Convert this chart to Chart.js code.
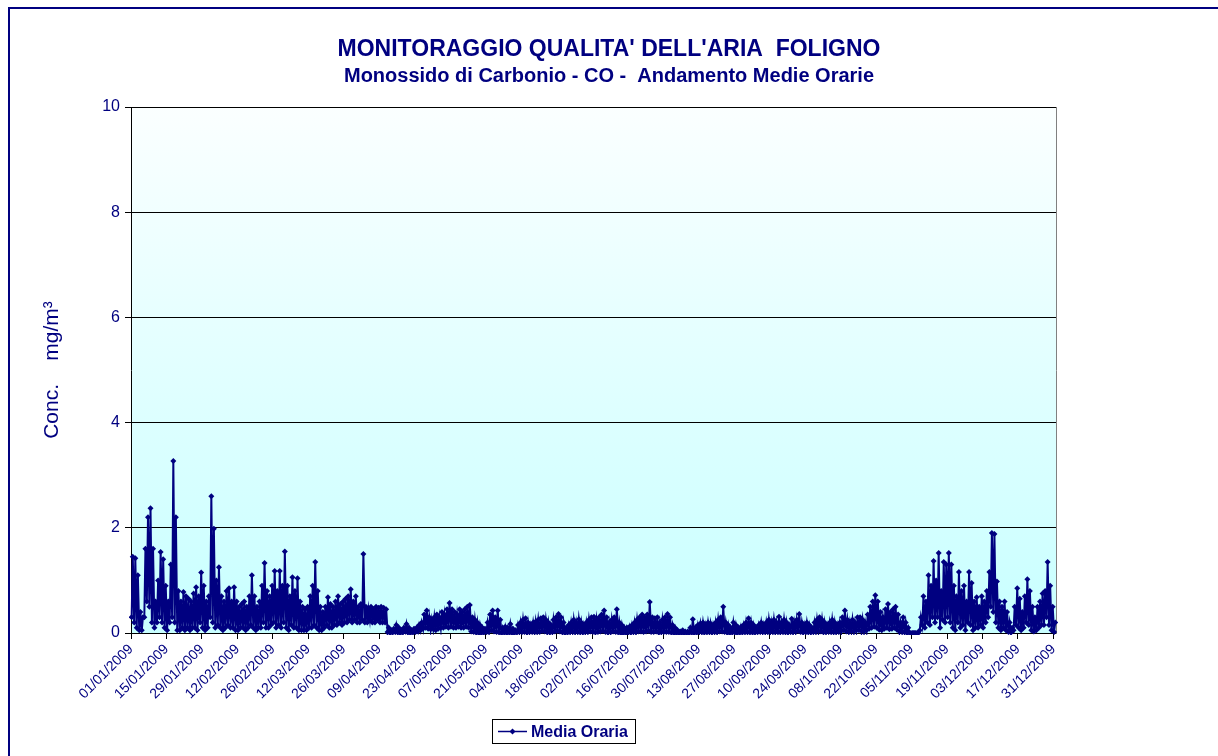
<!DOCTYPE html>
<html>
<head>
<meta charset="utf-8">
<script src="https://cdn.jsdelivr.net/npm/chart.js@4/dist/chart.umd.min.js"></script>
<style>
  html, body { margin:0; padding:0; background:#fff; }
  #wrap { width:1218px; height:756px; position:relative; }
</style>
</head>
<body>
<div id="wrap"><canvas id="c"></canvas></div>
<script>
// ---- DATA (CO hourly concentration, mg/m3, Foligno 2009) ----
// x-axis tick labels
const tickLabels = ['01/01/2009','15/01/2009','29/01/2009','12/02/2009','26/02/2009','12/03/2009','26/03/2009',
  '09/04/2009','23/04/2009','07/05/2009','21/05/2009','04/06/2009','18/06/2009','02/07/2009','16/07/2009',
  '30/07/2009','13/08/2009','27/08/2009','10/09/2009','24/09/2009','08/10/2009','22/10/2009','05/11/2009',
  '19/11/2009','03/12/2009','17/12/2009','31/12/2009'];
const yTicks = [0, 2, 4, 6, 8, 10];
const seriesName = 'Media Oraria';

// daily peak hourly values, one per day
const dailyPeak = [
  // Jan
  1.45,1.42,1.1,0.4,0.3,1.6,2.2,2.37,1.6,0.6,1.0,1.54,1.4,0.9,0.6,1.3,3.27,2.2,0.8,0.6,0.78,0.7,0.65,0.6,0.75,0.87,0.7,1.15,0.9,0.6,0.7,
  // Feb
  2.6,1.98,1.0,1.25,0.7,0.6,0.8,0.85,0.6,0.87,0.6,0.5,0.55,0.6,0.5,0.7,1.1,0.7,0.5,0.6,0.9,1.33,0.8,0.7,0.9,1.18,0.8,1.18,
  // Mar
  0.9,1.55,0.9,0.7,1.06,0.8,1.04,0.6,0.5,0.45,0.5,0.7,0.9,1.35,0.8,0.5,0.4,0.5,0.68,0.55,0.5,0.6,0.7,0.55,0.6,0.65,0.7,0.83,0.6,0.7,0.5,
  // Apr
  0.55,1.5,0.5,0.45,0.5,0.45,0.5,0.48,0.5,0.48,0.45,0.1,0.05,0.08,0.15,0.1,0.05,0.1,0.17,0.1,0.05,0.08,0.1,0.15,0.2,0.35,0.43,0.3,0.25,0.3,
  // May
  0.35,0.3,0.4,0.35,0.45,0.57,0.45,0.4,0.35,0.45,0.4,0.45,0.5,0.53,0.3,0.25,0.2,0.15,0.1,0.08,0.2,0.35,0.43,0.3,0.43,0.25,0.1,0.12,0.1,0.17,0.08,
  // Jun
  0.05,0.15,0.2,0.25,0.28,0.2,0.15,0.2,0.22,0.25,0.28,0.3,0.25,0.2,0.15,0.25,0.3,0.36,0.3,0.2,0.1,0.15,0.2,0.25,0.2,0.26,0.2,0.15,0.2,0.25,
  // Jul
  0.3,0.31,0.25,0.3,0.35,0.43,0.3,0.2,0.25,0.3,0.45,0.2,0.15,0.1,0.1,0.12,0.15,0.2,0.25,0.3,0.35,0.3,0.35,0.59,0.3,0.28,0.3,0.2,0.25,0.3,0.36,
  // Aug
  0.3,0.15,0.1,0.05,0.03,0.05,0.03,0.03,0.1,0.26,0.1,0.15,0.18,0.2,0.15,0.2,0.18,0.15,0.2,0.25,0.3,0.5,0.2,0.15,0.1,0.2,0.15,0.1,0.12,0.15,0.2,
  // Sep
  0.28,0.2,0.15,0.1,0.15,0.2,0.15,0.2,0.25,0.2,0.25,0.2,0.31,0.2,0.25,0.2,0.15,0.27,0.2,0.25,0.36,0.2,0.15,0.2,0.15,0.1,0.2,0.25,0.3,0.25,
  // Oct
  0.2,0.15,0.2,0.25,0.2,0.15,0.2,0.3,0.43,0.25,0.2,0.25,0.2,0.3,0.3,0.25,0.2,0.35,0.5,0.6,0.72,0.6,0.4,0.3,0.45,0.55,0.4,0.45,0.5,0.35,0.2,
  // Nov
  0.3,0.2,0.1,0,0,0,0,0.3,0.7,0.6,1.1,0.9,1.37,1.0,1.52,0.8,1.35,1.3,1.52,1.3,0.9,0.7,1.16,0.8,0.9,0.6,1.16,0.95,0.6,0.68,
  // Dec
  0.5,0.7,0.6,0.8,1.16,1.9,1.88,0.98,0.6,0.5,0.6,0.4,0.2,0.1,0.5,0.85,0.65,0.4,0.7,1.02,0.8,0.5,0.3,0.5,0.6,0.75,0.8,1.35,0.9,0.5,0.2
];

// daily lowest hourly values, one per day
const dailyLow = [
  // Jan
  0.3,0.2,0.1,0.05,0.05,0.3,0.6,0.5,0.2,0.1,0.2,0.3,0.2,0.1,0.05,0.2,0.3,0.2,0.05,0.05,0.1,0.05,0.1,0.05,0.1,0.1,0.05,0.2,0.1,0.05,0.1,
  // Feb
  0.3,0.2,0.1,0.15,0.1,0.05,0.1,0.15,0.1,0.1,0.05,0.05,0.1,0.1,0.05,0.1,0.15,0.1,0.05,0.1,0.1,0.2,0.1,0.1,0.15,0.2,0.1,0.15,
  // Mar
  0.1,0.2,0.1,0.05,0.15,0.1,0.1,0.05,0.05,0.05,0.05,0.1,0.1,0.15,0.1,0.05,0.05,0.1,0.15,0.1,0.1,0.15,0.15,0.2,0.15,0.2,0.2,0.25,0.2,0.25,0.2,
  // Apr
  0.2,0.25,0.2,0.2,0.25,0.2,0.2,0.25,0.2,0.2,0.2,0.02,0.0,0.01,0.02,0.01,0.0,0.01,0.03,0.01,0.0,0.01,0.02,0.03,0.05,0.08,0.1,0.08,0.07,0.08,
  // May
  0.05,0.08,0.1,0.1,0.12,0.1,0.12,0.1,0.1,0.12,0.1,0.1,0.12,0.1,0.03,0.02,0.01,0.0,0.0,0.01,0.02,0.03,0.05,0.03,0.02,0.01,0.0,0.01,0.0,0.01,0.0,
  // Jun
  0.0,0.01,0.02,0.03,0.02,0.01,0.02,0.03,0.02,0.03,0.02,0.04,0.03,0.02,0.01,0.02,0.03,0.04,0.03,0.02,0.0,0.01,0.02,0.03,0.02,0.03,0.02,0.01,0.02,0.03,
  // Jul
  0.03,0.02,0.01,0.02,0.03,0.04,0.02,0.01,0.02,0.03,0.02,0.01,0.0,0.0,0.0,0.01,0.01,0.02,0.02,0.03,0.03,0.02,0.03,0.04,0.02,0.02,0.03,0.01,0.02,0.02,0.02,
  // Aug
  0.02,0.01,0.0,0.0,0.0,0.0,0.0,0.0,0.0,0.01,0.0,0.01,0.02,0.02,0.01,0.02,0.02,0.01,0.02,0.02,0.03,0.03,0.02,0.01,0.0,0.01,0.01,0.0,0.01,0.01,0.02,
  // Sep
  0.02,0.02,0.01,0.01,0.02,0.03,0.02,0.02,0.03,0.02,0.03,0.02,0.03,0.02,0.03,0.02,0.01,0.03,0.02,0.03,0.04,0.02,0.01,0.02,0.02,0.01,0.02,0.03,0.04,0.03,
  // Oct
  0.02,0.02,0.03,0.03,0.02,0.02,0.03,0.04,0.05,0.03,0.03,0.04,0.03,0.05,0.05,0.04,0.03,0.05,0.08,0.1,0.12,0.1,0.06,0.05,0.08,0.1,0.07,0.08,0.1,0.06,0.03,
  // Nov
  0.03,0.02,0.0,0,0,0,0,0.05,0.15,0.1,0.2,0.15,0.3,0.2,0.3,0.1,0.25,0.2,0.3,0.2,0.1,0.05,0.2,0.1,0.15,0.05,0.2,0.15,0.05,0.1,
  // Dec
  0.1,0.15,0.1,0.2,0.3,0.5,0.4,0.2,0.1,0.05,0.1,0.05,0.02,0.01,0.05,0.15,0.1,0.05,0.1,0.2,0.15,0.05,0.03,0.05,0.1,0.15,0.15,0.3,0.15,0.05,0.02
];

// ---- build table for the library ----
function dayOfYear(label) {
  const [dd, mm, yy] = label.split('/').map(Number);
  return Math.round((Date.UTC(yy, mm - 1, dd) - Date.UTC(yy, 0, 1)) / 86400000);
}
const tickDays = tickLabels.map(dayOfYear);
const labelByDay = {};
tickLabels.forEach((l, i) => { labelByDay[tickDays[i]] = l; });

const points = [];
dailyPeak.forEach((peak, d) => {
  points.push({ x: d + 0.25, y: dailyLow[d] });
  points.push({ x: d + 0.7, y: peak });
});

const NAVY = '#000080';
const FONT = 'Arial, "Liberation Sans", sans-serif';
Chart.defaults.font.family = FONT;

const decor = {
  id: 'decor',
  beforeDraw(chart) {
    const { ctx, chartArea: a, width, height } = chart;
    ctx.save();
    ctx.fillStyle = '#ffffff';
    ctx.fillRect(0, 0, width, height);
    const g = ctx.createLinearGradient(0, a.top, 0, a.bottom);
    g.addColorStop(0, '#fbffff');
    g.addColorStop(1, '#c8ffff');
    ctx.fillStyle = g;
    ctx.fillRect(a.left, a.top, a.right - a.left, a.bottom - a.top);
    ctx.restore();
  },
  afterDraw(chart) {
    const ctx = chart.ctx;
    ctx.save();
    // outer frame (only top/left visible)
    ctx.strokeStyle = NAVY;
    ctx.lineWidth = 2;
    ctx.strokeRect(9, 8, chart.width + 100, chart.height + 100);
    // legend box
    ctx.fillStyle = '#ffffff';
    ctx.fillRect(492, 719, 144, 24);
    ctx.strokeStyle = '#000000';
    ctx.lineWidth = 1;
    ctx.strokeRect(492.5, 719.5, 143, 24);
    const ly = 731.5;
    ctx.strokeStyle = NAVY;
    ctx.lineWidth = 1.5;
    ctx.beginPath(); ctx.moveTo(498, ly); ctx.lineTo(527, ly); ctx.stroke();
    ctx.fillStyle = NAVY;
    ctx.beginPath();
    ctx.moveTo(512.5, ly - 3); ctx.lineTo(515.5, ly); ctx.lineTo(512.5, ly + 3); ctx.lineTo(509.5, ly);
    ctx.closePath(); ctx.fill();
    ctx.font = 'bold 16px ' + FONT;
    ctx.textBaseline = 'middle';
    ctx.textAlign = 'left';
    ctx.fillText(chart.data.datasets[0].label, 531, ly + 1);
    ctx.restore();
  }
};

new Chart(document.getElementById('c'), {
  type: 'line',
  data: {
    datasets: [{
      label: seriesName,
      data: points,
      borderColor: NAVY,
      backgroundColor: NAVY,
      borderWidth: 2,
      pointStyle: 'rectRot',
      pointRadius: 3,
      pointBorderWidth: 0,
      pointBackgroundColor: NAVY,
      tension: 0,
      fill: false,
      clip: 2
    }]
  },
  options: {
    responsive: true,
    maintainAspectRatio: false,
    animation: false,
    events: [],
    layout: { padding: { left: 0, right: 0, top: 0, bottom: 0 } },
    plugins: {
      legend: { display: false },
      tooltip: { enabled: false },
      title: {
        display: true,
        text: "MONITORAGGIO QUALITA' DELL'ARIA  FOLIGNO",
        color: NAVY,
        font: { size: 23, weight: 'bold', family: FONT },
        padding: { top: 36, bottom: 0 }
      },
      subtitle: {
        display: true,
        text: 'Monossido di Carbonio - CO -  Andamento Medie Orarie',
        color: NAVY,
        font: { size: 20, weight: 'bold', family: FONT },
        padding: { top: 0.4, bottom: 19 }
      }
    },
    scales: {
      x: {
        type: 'linear',
        min: 0,
        max: 365,
        afterBuildTicks: (s) => { s.ticks = tickDays.map(v => ({ value: v })); },
        afterFit: (s) => { s.height = 123; },
        ticks: {
          autoSkip: false,
          minRotation: 45,
          maxRotation: 45,
          color: NAVY,
          font: { size: 14, family: FONT },
          padding: 2,
          callback: (v) => labelByDay[v] || ''
        },
        grid: { drawOnChartArea: false, drawTicks: true, tickLength: 6, color: '#000000' },
        border: { display: true, color: '#000000', width: 1 }
      },
      y: {
        position: 'left',
        min: 0,
        max: 10,
        afterBuildTicks: (s) => { s.ticks = yTicks.map(v => ({ value: v })); },
        afterFit: (s) => { s.width = 131; },
        ticks: {
          color: NAVY,
          font: { size: 16, family: FONT },
          padding: 5
        },
        grid: { color: '#000000', lineWidth: 1, drawTicks: true, tickLength: 6 },
        border: { display: true, color: '#000000', width: 1 },
        title: {
          display: true,
          text: 'Conc.    mg/m³',
          color: NAVY,
          font: { size: 21, family: FONT },
          padding: { top: 40, bottom: 0 }
        }
      },
      yr: {
        position: 'right',
        display: true,
        afterFit: (s) => { s.width = 162; },
        ticks: { display: false },
        grid: { display: false, drawTicks: false },
        border: { display: true, color: '#808080', width: 1 }
      }
    }
  },
  plugins: [decor]
});
</script>
</body>
</html>
